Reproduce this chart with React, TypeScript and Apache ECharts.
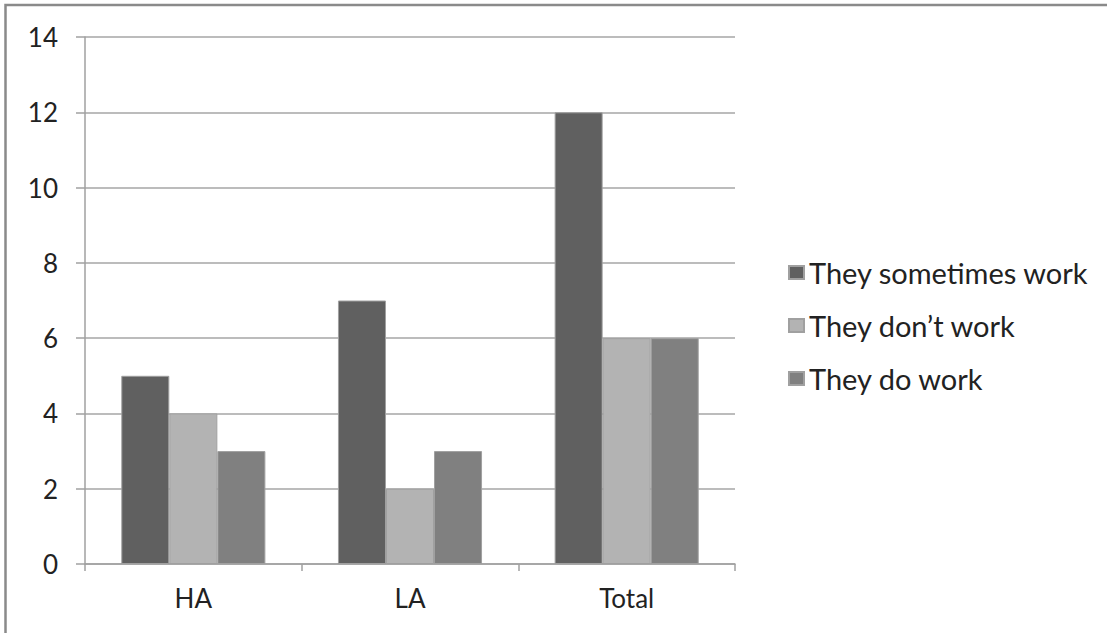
import React, { useEffect, useRef } from "react";
import * as echarts from "echarts";

const categories = ["HA", "LA", "Total"];
const seriesNames = ["They sometimes work", "They don\u2019t work", "They do work"];
const sometimesWork = [5, 7, 12];
const dontWork = [4, 2, 6];
const doWork = [3, 3, 6];
const colors = ["#606060", "#b3b3b3", "#808080"];
const yMin = 0;
const yMax = 14;
const yStep = 2;

const FONT = "Lato, 'Open Sans', sans-serif";

export default function App() {
  const ref = useRef<HTMLDivElement>(null);
  useEffect(() => {
    if (!ref.current) return;
    const chart = echarts.init(ref.current, null, { renderer: "svg" });
    const values = [sometimesWork, dontWork, doWork];
    chart.setOption({
      animation: false,
      backgroundColor: "#ffffff",
      textStyle: { fontFamily: FONT },
      graphic: [
        {
          type: "rect",
          shape: { x: 5.5, y: 5, width: 1300, height: 800 },
          style: { fill: "none", stroke: "#8a8a8a", lineWidth: 2.5 },
          silent: true,
        },
      ],
      grid: { left: 85, right: 372, top: 37, bottom: 69, containLabel: false },
      legend: {
        orient: "vertical",
        left: 783,
        top: 253,
        itemWidth: 15,
        itemHeight: 13,
        itemGap: 24,
        icon: "rect",
        textStyle: { fontFamily: FONT, fontSize: 29, color: "#222", lineHeight: 29 },
        data: seriesNames,
      },
      xAxis: {
        type: "category",
        data: categories,
        axisLine: { show: true, lineStyle: { color: "#a0a0a0", width: 1.5 } },
        axisTick: { show: true, length: 7, interval: 0, lineStyle: { color: "#a0a0a0", width: 1.5 } },
        axisLabel: { fontFamily: FONT, fontSize: 26, color: "#222", margin: 21 },
      },
      yAxis: {
        type: "value",
        min: yMin,
        max: yMax,
        interval: yStep,
        axisLine: { show: true, lineStyle: { color: "#a0a0a0", width: 1.5 } },
        axisTick: { show: true, length: 9, lineStyle: { color: "#a0a0a0", width: 1.5 } },
        splitLine: { show: true, lineStyle: { color: "#a6a6a6", width: 1.5 } },
        axisLabel: { fontFamily: FONT, fontSize: 26, color: "#222", margin: 27 },
      },
      series: seriesNames.map((name, i) => ({
        name,
        type: "bar",
        data: values[i],
        barGap: "0%",
        barCategoryGap: "33.5%",
        itemStyle: { color: colors[i], borderColor: "#a0a0a0", borderWidth: 1 },
      })),
    });
    return () => chart.dispose();
  }, []);
  return (
    <div
      ref={ref}
      style={{ position: "fixed", left: 0, top: 0, width: 1107, height: 633, background: "#fff" }}
    />
  );
}
